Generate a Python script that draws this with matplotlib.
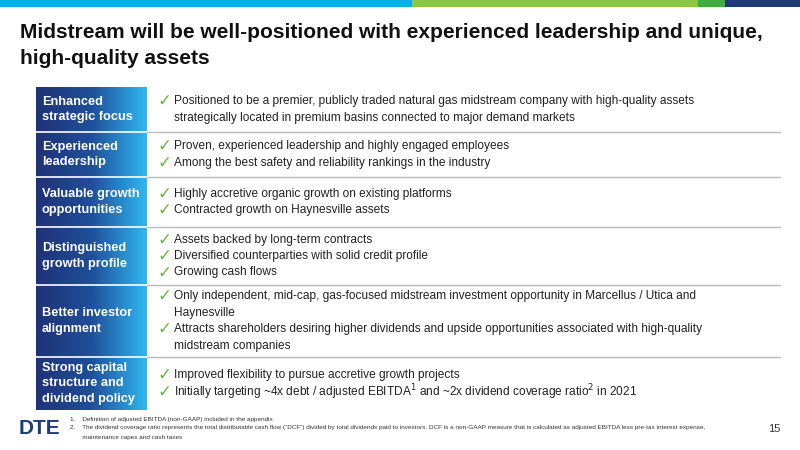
import matplotlib
matplotlib.use("Agg")
import matplotlib.pyplot as plt
import numpy as np
from matplotlib.patches import Rectangle
from matplotlib.colors import LinearSegmentedColormap

title_lines = ["Midstream will be well-positioned with experienced leadership and unique,",
               "high-quality assets"]
categories = ["Enhanced\nstrategic focus", "Experienced\nleadership", "Valuable growth\nopportunities",
              "Distinguished\ngrowth profile", "Better investor\nalignment",
              "Strong capital\nstructure and\ndividend policy"]
bullets = [
    ["Positioned to be a premier, publicly traded natural gas midstream company with high-quality assets\nstrategically located in premium basins connected to major demand markets"],
    ["Proven, experienced leadership and highly engaged employees",
     "Among the best safety and reliability rankings in the industry"],
    ["Highly accretive organic growth on existing platforms",
     "Contracted growth on Haynesville assets"],
    ["Assets backed by long-term contracts",
     "Diversified counterparties with solid credit profile",
     "Growing cash flows"],
    ["Only independent, mid-cap, gas-focused midstream investment opportunity in Marcellus / Utica and\nHaynesville",
     "Attracts shareholders desiring higher dividends and upside opportunities associated with high-quality\nmidstream companies"],
    ["Improved flexibility to pursue accretive growth projects",
     r"Initially targeting ~4x debt / adjusted EBITDA$^1$ and ~2x dividend coverage ratio$^2$ in 2021"],
]
row_edges = [87, 132, 177, 227, 285, 357, 410]
footnotes = ["1.    Definition of adjusted EBITDA (non-GAAP) included in the appendix",
             "2.    The dividend coverage ratio represents the total distributable cash flow (\u201cDCF\u201d) divided by total dividends paid to investors. DCF is a non-GAAP measure that is calculated as adjusted EBITDA less pre-tax interest expense,",
             "       maintenance capex and cash taxes"]

fig = plt.figure(figsize=(8, 4.5), dpi=100)
ax = fig.add_axes([0, 0, 1, 1])
ax.set_xlim(0, 800); ax.set_ylim(450, 0); ax.axis("off")
F = "Liberation Sans"

for x0, x1, c in [(0, 412, "#0AACEA"), (412, 698, "#8DC63F"), (698, 725, "#3FAE3F"), (725, 800, "#1E3A78")]:
    ax.add_patch(Rectangle((x0, 0), x1 - x0, 7, color=c, lw=0))

for i, t in enumerate(title_lines):
    ax.text(20, 32 + i * 26, t, fontsize=15, fontweight="bold", family=F, va="center", color="#111111")

grad = np.linspace(0, 1, 256)[None, :]
cm = LinearSegmentedColormap.from_list("g", ["#1F3277", "#1F4F9A", "#2FB8F0"])
ax.imshow(grad, cmap=cm, extent=(36, 147, 410, 87), aspect="auto", zorder=1)

for i in range(len(categories)):
    y0, y1 = row_edges[i], row_edges[i + 1]
    if i > 0:
        ax.plot([36, 147], [y0, y0], color="white", lw=1.2, zorder=2)
        ax.plot([147, 780], [y0, y0], color="#BBBBBB", lw=1, zorder=2)
    ax.text(42, (y0 + y1) / 2, categories[i], color="white", fontsize=9.2, fontweight="bold",
            family=F, va="center", linespacing=1.35, zorder=3)
    items = bullets[i]
    nlines = sum(s.count("\n") + 1 for s in items)
    lh = 16.5
    y = (y0 + y1) / 2 - nlines * lh / 2 + lh / 2
    for s in items:
        ax.text(158, y, "\u2713", color="#6DB33F", fontsize=12, fontweight="bold",
                family="DejaVu Sans", va="center")
        for k, line in enumerate(s.split("\n")):
            ax.text(174, y + k * lh, line, fontsize=8.6, family=F, va="center", color="#222222")
        y += (s.count("\n") + 1) * lh

ax.text(19, 429, "DTE", fontsize=15, fontweight="bold", family=F, color="#1E3A78", va="center")
for i, t in enumerate(footnotes):
    ax.text(70, 419 + i * 9, t, fontsize=4.6, family=F, va="center", color="#333333")
ax.text(780, 429, "15", fontsize=8, family=F, va="center", ha="right", color="#333333")

fig.savefig("out.png", dpi=100)
